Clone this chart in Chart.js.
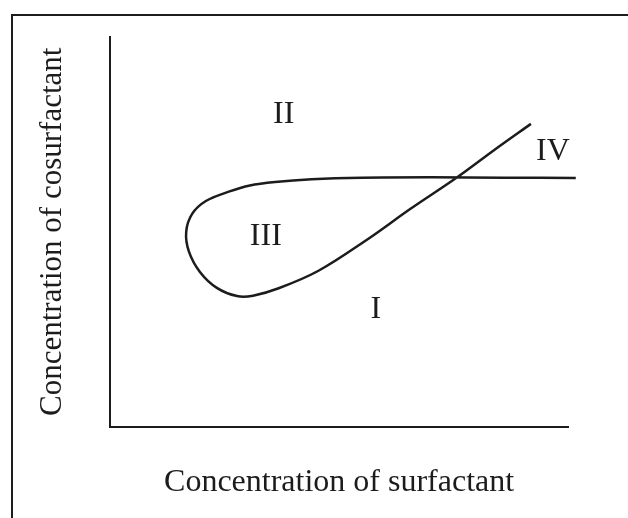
<!DOCTYPE html>
<html>
<head>
<meta charset="utf-8">
<script src="https://cdn.jsdelivr.net/npm/chart.js@4/dist/chart.umd.min.js"></script>
<style>
    body { margin: 0; background: #fff; }
    #frame {
        position: absolute; left: 11px; top: 14px;
        width: 700px; height: 600px;
        border: 2px solid #1c1c1c;
    }
    #wrap { position: absolute; left: 0; top: 0; width: 628px; height: 518px; }
</style>
</head>
<body>
<div id="frame"></div>
<div id="wrap"><canvas id="myChart" width="628" height="518"></canvas></div>
<script>
// phase boundary: horizontal line, loop around region III, then the rising line
const curveX = [101.7, 86.0, 70.0, 55.0, 44.0, 36.0, 30.5, 25.9, 20.9, 17.9, 16.6, 17.2, 19.6, 23.3, 27.7, 31.2, 36.8, 45.5, 56.0, 65.6, 75.8, 83.9, 91.9];
const curveY = [63.8, 63.9, 64.0, 63.9, 63.5, 62.8, 61.9, 60.3, 57.9, 54.6, 50.0, 44.9, 39.7, 35.6, 33.5, 33.6, 35.5, 40.0, 47.9, 55.9, 64.0, 71.0, 77.7];

const regionNames = ['I', 'II', 'III', 'IV'];
const regionX = [58.0, 37.9, 34.0, 96.7];
const regionY = [30.0, 80.0, 48.7, 70.5];

const xTitle = 'Concentration of surfactant';
const yTitle = 'Concentration of cosurfactant';

const ink = '#1c1c1c';

const regionLabels = {
    id: 'regionLabels',
    afterDatasetsDraw(chart) {
        const ctx = chart.ctx;
        const xs = chart.scales.x;
        const ys = chart.scales.y;
        ctx.save();
        ctx.fillStyle = ink;
        ctx.font = '32px "Liberation Serif"';
        ctx.textAlign = 'center';
        ctx.textBaseline = 'middle';
        regionNames.forEach((name, i) => {
            ctx.fillText(name, xs.getPixelForValue(regionX[i]), ys.getPixelForValue(regionY[i]));
        });
        ctx.restore();
    }
};

let points = curveX.map((x, i) => ({x: x, y: curveY[i]}));

let ctx = document.getElementById('myChart').getContext('2d');
let chart = new Chart(ctx, {
    type: 'scatter',
    data: {
        datasets: [{
            data: points,
            showLine: true,
            borderColor: ink,
            borderWidth: 2.5,
            pointRadius: 0,
            tension: 0.35,
            clip: false,
        }]
    },
    options: {
        responsive: false,
        animation: false,
        layout: {
            padding: {left: 30, right: 60, top: 37, bottom: 0},
        },
        plugins: {
            legend: {display: false},
            tooltip: {enabled: false},
        },
        scales: {
            x: {
                min: 0,
                max: 100,
                grid: {display: false, drawTicks: false},
                ticks: {display: false},
                border: {color: ink, width: 2},
                title: {
                    display: true,
                    text: xTitle,
                    color: ink,
                    font: {family: 'Liberation Serif', size: 32},
                    padding: {top: 37, bottom: 16},
                },
            },
            y: {
                min: 0,
                max: 100,
                grid: {display: false, drawTicks: false},
                ticks: {display: false},
                border: {color: ink, width: 2},
                title: {
                    display: true,
                    text: yTitle,
                    color: ink,
                    font: {family: 'Liberation Serif', size: 31},
                    padding: {top: 4, bottom: 39},
                },
            },
        },
    },
    plugins: [regionLabels],
});
</script>
</body>
</html>
